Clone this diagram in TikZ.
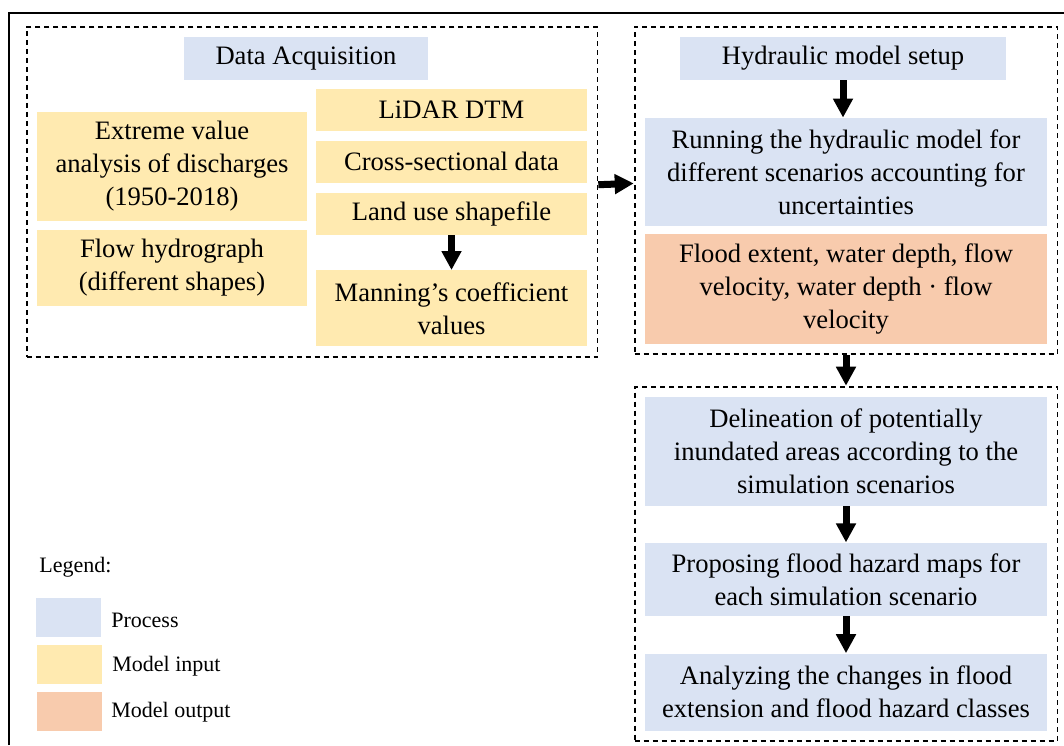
\documentclass[tikz,border=0pt]{standalone}
\usepackage{fontspec}
\setmainfont{Liberation Serif}
\usetikzlibrary{positioning}
\usetikzlibrary{calc, fit, arrows.meta}

\definecolor{procblue}{HTML}{DAE3F3}
\definecolor{inyellow}{HTML}{FFEAB0}
\definecolor{outorange}{HTML}{F8CBAD}

\begin{document}
\begin{tikzpicture}
[
	x=0.5pt, y=-0.5pt,
	box/.style={rectangle, inner sep=0pt, align=center, font=\fontsize{13.3pt}{16.5pt}\selectfont},
	process/.style={box, fill=procblue},
	input/.style={box, fill=inyellow},
	output/.style={box, fill=outorange},
	group/.style={draw, dash pattern=on 2.5pt off 2pt, line width=0.9pt, inner sep=5pt},
	flow/.style={-{Triangle[length=9.5pt, width=9.5pt]}, line width=3.5pt},
	legendT/.style={anchor=west, inner sep=0pt, font=\fontsize{11pt}{13pt}\selectfont}
  ]
	\useasboundingbox (0,0) rectangle (1064,745);
	\draw[line width=1pt] (8.5,745) -- (8.5,12.5) -- (1064,12.5);

	% data acquisition
	\node[process, minimum width=122pt, minimum height=21.5pt] (DA) at (306,58.5) {Data Acquisition};
	\node[input, minimum width=135pt, minimum height=54.5pt] (EVA) at (172,166.5) {Extreme value\\analysis of discharges\\(1950-2018)};
	\node[input, minimum width=135pt, minimum height=38pt, below=4pt of EVA] (FH) {Flow hydrograph\\(different shapes)};
	\node[input, minimum width=135.5pt, minimum height=21pt] (DTM) at (451.5,110) {LiDAR DTM};
	\node[input, minimum width=135.5pt, minimum height=21pt, below=4.5pt of DTM] (XS) {Cross-sectional data};
	\node[input, minimum width=135.5pt, minimum height=21pt, below=4.5pt of XS] (LU) {Land use shapefile};
	\node[input, minimum width=135.5pt, minimum height=38pt, below=17.5pt of LU] (MC) {Manning’s coefficient\\values};
	\node[group, fit=(DA)(EVA)(FH)(DTM)(MC)] (Inputs) {};

	% hydraulic model
	\node[process, minimum width=163pt, minimum height=21.5pt] (Setup) at (843,58.5) {Hydraulic model setup};
	\node[process, minimum width=201pt, minimum height=54pt] (Run) at (846,172) {Running the hydraulic model for\\different scenarios accounting for\\uncertainties};
	\node[output, minimum width=201pt, minimum height=55pt, below=3.5pt of Run] (Out) {Flood extent, water depth, flow\\velocity, water depth · flow\\velocity};
	\node[group, fit=(Setup)(Run)(Out)] (Model) {};

	% hazard mapping
	\node[process, minimum width=201pt, minimum height=54.5pt] (Del) at (846,451.5) {Delineation of potentially\\inundated areas according to the\\simulation scenarios};
	\node[process, minimum width=201pt, minimum height=36.5pt, below=18pt of Del] (Maps) {Proposing flood hazard maps for\\each simulation scenario};
	\node[process, minimum width=201pt, minimum height=38.5pt, below=18.5pt of Maps] (Chg) {Analyzing the changes in flood\\extension and flood hazard classes};
	\node[group, fit=(Del)(Chg)] (Hazard) {};

	\draw[flow] (LU) -- (MC);
	\draw[flow] (Setup.south) -- (Setup.south |- Run.north);
	\draw[flow] ([yshift=3.5pt]Inputs.east) -- ([yshift=3.5pt]Model.west);
	\draw[flow] (Model) -- (Hazard);
	\draw[flow] (Del) -- (Maps);
	\draw[flow] (Maps) -- (Chg);

	% legend
	\node[legendT] (Leg) at (39,567) {Legend:};
	\node[process, minimum width=32.5pt, minimum height=19.5pt] (LegP) at (68.5,617.5) {};
	\node[input, minimum width=32.5pt, minimum height=19.5pt] (LegI) at (69.5,664) {};
	\node[output, minimum width=32.5pt, minimum height=19.5pt] (LegO) at (69.5,711.5) {};
	\node[legendT] (LegPT) at (111,620) {Process};
	\node[legendT] (LegIT) at (112,666) {Model input};
	\node[legendT] (LegOT) at (111,712) {Model output};
\end{tikzpicture}
\end{document}
